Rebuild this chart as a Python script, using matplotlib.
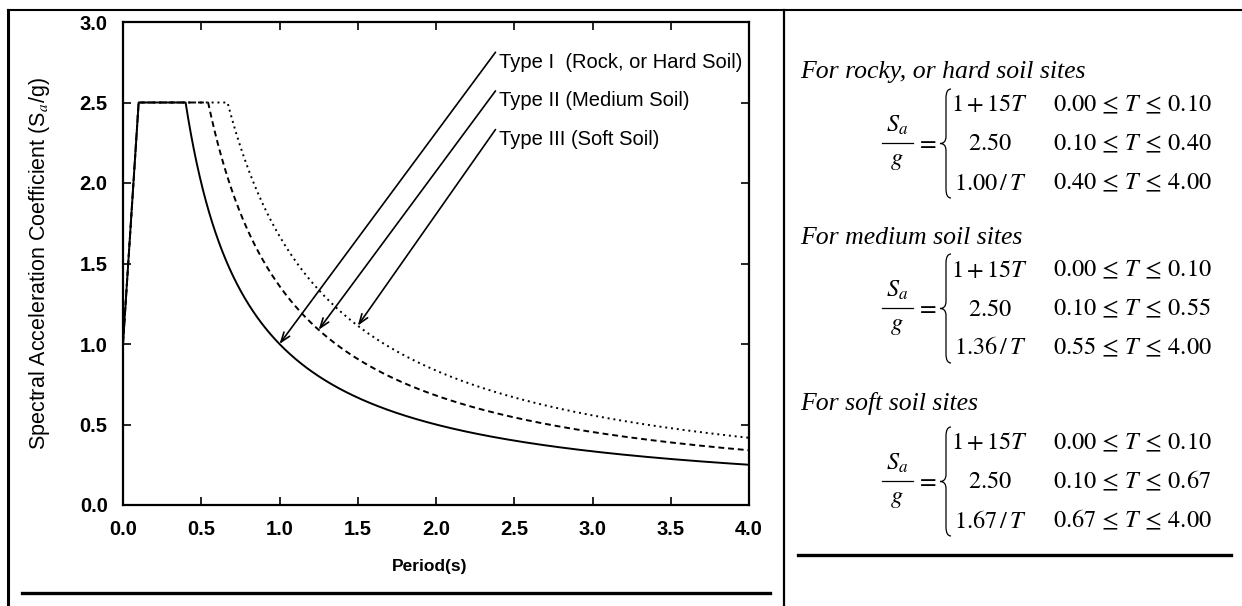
import numpy as np
import matplotlib.pyplot as plt
from matplotlib.path import Path
from matplotlib.patches import PathPatch

plt.rcParams['mathtext.fontset'] = 'stix'
plt.rcParams['font.family'] = ['Liberation Sans', 'DejaVu Sans']

# --------------------------------------------------------------
# Data: design spectrum parameters, as printed on the chart
# --------------------------------------------------------------
site_labels = ['Type I  (Rock, or Hard Soil)', 'Type II (Medium Soil)', 'Type III (Soft Soil)']
site_titles = ['For rocky, or hard soil sites', 'For medium soil sites', 'For soft soil sites']
ramp_start = 1.0      # Sa/g at T = 0
ramp_slope = 15.0     # 1 + 15T
ramp_end = 0.10
plateau = 2.50
plateau_end = [0.40, 0.55, 0.67]
decay_coef = [1.00, 1.36, 1.67]
period_max = 4.00

# where the arrows point (period on each curve) and where the labels sit
arrow_tip_T = [1.00, 1.25, 1.50]
label_T = 2.40
label_y = [2.75, 2.51, 2.27]

x_ticks = [0.0, 0.5, 1.0, 1.5, 2.0, 2.5, 3.0, 3.5, 4.0]
y_ticks = [0.0, 0.5, 1.0, 1.5, 2.0, 2.5, 3.0]

line_styles = ['-', (0, (3, 2)), (0, (1, 2))]


def spectrum(T, i):
    Ts = np.maximum(T, 1e-9)
    return np.where(T <= ramp_end, ramp_start + ramp_slope * T,
                    np.minimum(plateau, decay_coef[i] / Ts))


fig = plt.figure(figsize=(12.42, 6.06), dpi=100)
ax = fig.add_axes([123 / 1242, 1 - 505 / 606, 626 / 1242, 483 / 606])

T = np.linspace(0, period_max, 1601)
for i in reversed(range(3)):
    ax.plot(T, spectrum(T, i), color='black', lw=1.4, linestyle=line_styles[i],
            zorder=3 + (2 - i), solid_capstyle='butt')

# labels with leader arrows
for i in range(3):
    tip_T = arrow_tip_T[i]
    tip_y = float(spectrum(np.array([tip_T]), i)[0])
    ax.annotate('', xy=(tip_T, tip_y), xytext=(label_T - 0.02, label_y[i] + 0.062),
                arrowprops=dict(arrowstyle='->,head_length=0.7,head_width=0.25',
                                lw=1.2, color='black', shrinkA=0, shrinkB=0))
    ax.text(label_T, label_y[i], site_labels[i], fontsize=14.5, va='center', ha='left')

ax.set_xlim(0, period_max)
ax.set_ylim(0, 3)
ax.set_xticks(x_ticks)
ax.set_yticks(y_ticks)
ax.set_xticklabels(['%.1f' % v for v in x_ticks], fontweight='bold')
ax.set_yticklabels(['%.1f' % v for v in y_ticks], fontweight='bold')
ax.tick_params(direction='in', top=True, right=True, length=6, width=1.2,
               labelsize=14.5, pad=11)
for s in ax.spines.values():
    s.set_linewidth(1.6)

ax.set_ylabel(r'Spectral Acceleration Coefficient (S$_a$/g)', fontsize=15.5, va='center')
ax.yaxis.set_label_coords(-0.1326, 0.5)
ax.set_xlabel('Period(s)', fontsize=12.5, fontweight='bold', va='center')
ax.xaxis.set_label_coords(0.49, -0.128)

# --------------------------------------------------------------
# Overlay in pixel coordinates: table rules and the equations
# --------------------------------------------------------------
ov = fig.add_axes([0, 0, 1, 1])
ov.set_xlim(0, 1242)
ov.set_ylim(606, 0)
ov.axis('off')

ov.plot([8, 1242], [10, 10], color='black', lw=1.5)
ov.plot([8, 8], [10, 606], color='black', lw=2.2)
ov.plot([784, 784], [10, 606], color='black', lw=1.6)
ov.plot([22, 770], [593, 593], color='black', lw=2.4)
ov.plot([798, 1231], [555, 555], color='black', lw=2.4)


def brace(x, top, bot):
    mid = (top + bot) / 2
    xm = x - 5
    verts = [(x, top), (xm, top), (xm, top + 9), (xm, mid - 7), (xm, mid), (x - 11, mid),
             (xm, mid), (xm, mid + 7), (xm, bot - 9), (xm, bot), (x, bot)]
    codes = [Path.MOVETO, Path.CURVE3, Path.CURVE3, Path.LINETO, Path.CURVE3, Path.CURVE3,
             Path.CURVE3, Path.CURVE3, Path.LINETO, Path.CURVE3, Path.CURVE3]
    ov.add_patch(PathPatch(Path(verts, codes), fill=False, lw=0.9, color='black'))


title_base = [78, 244, 410]
row_mid = [143, 308, 481]
row_gap = 39
eq_size = 17.5

for b in range(3):
    ov.text(800, title_base[b], site_titles[b], fontsize=18.5, style='italic',
            family='Liberation Serif', va='baseline', ha='left')
    exprs = [r'$1+15T$', r'$%.2f$' % plateau, r'$%.2f\,/\,T$' % decay_coef[b]]
    conds = [r'$0.00\,\leq\,T\,\leq\,%.2f$' % ramp_end,
             r'$%.2f\,\leq\,T\,\leq\,%.2f$' % (ramp_end, plateau_end[b]),
             r'$%.2f\,\leq\,T\,\leq\,%.2f$' % (plateau_end[b], period_max)]
    for r in range(3):
        y = row_mid[b] + (r - 1) * row_gap
        ov.text(990, y + 7.5, exprs[r], fontsize=eq_size, ha='center', va='baseline')
        ov.text(1053, y + 7.5, conds[r], fontsize=eq_size, ha='left', va='baseline')
    bar = row_mid[b]
    ov.text(897, bar - 11, r'$S_a$', fontsize=eq_size, ha='center', va='baseline')
    ov.text(897, bar + 22, r'$g$', fontsize=eq_size, ha='center', va='baseline')
    ov.plot([882, 913], [bar, bar], color='black', lw=0.9)
    ov.text(926, bar + 6, r'$=$', fontsize=eq_size, ha='center', va='baseline')
    brace(951, row_mid[b] - row_gap - 15, row_mid[b] + row_gap + 16)

fig.savefig('out.png', dpi=100)
